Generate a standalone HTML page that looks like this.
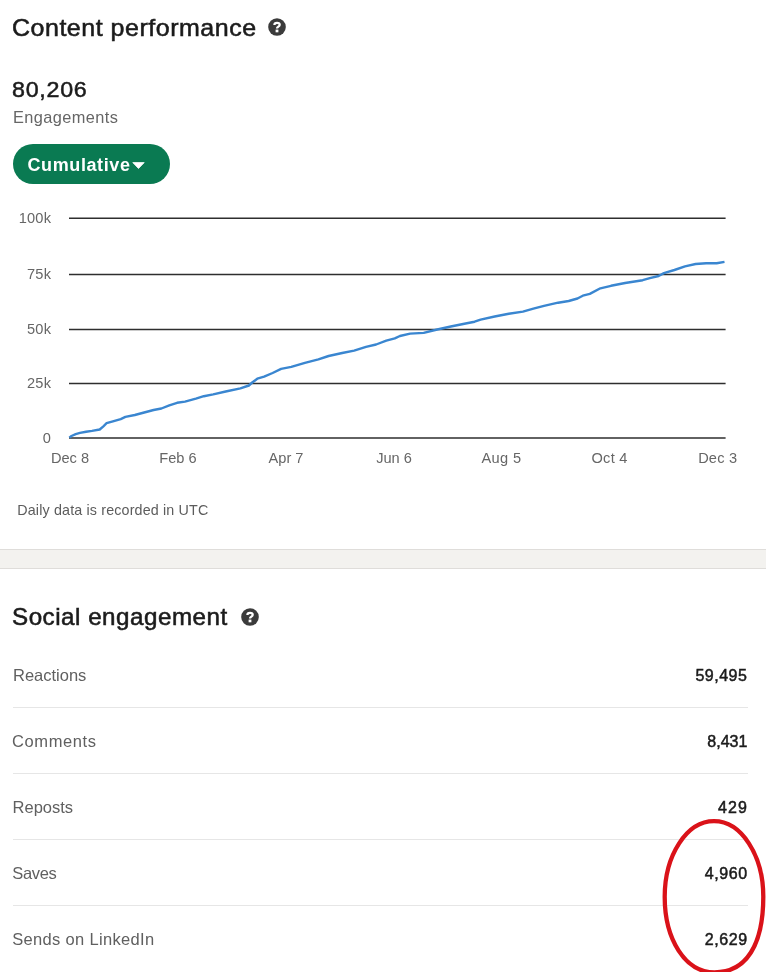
<!DOCTYPE html>
<html>
<head>
<meta charset="utf-8">
<style>
*{margin:0;padding:0;box-sizing:border-box;}
html,body{width:766px;height:972px;overflow:hidden;background:#fff;}
body{font-family:"Liberation Sans",sans-serif;position:relative;color:#1d1d1d;}
.abs{position:absolute;white-space:nowrap;line-height:1;}
.h1{font-size:24px;color:#1b1b1b;-webkit-text-stroke:0.55px #1b1b1b;letter-spacing:0.5px;transform-origin:0 0;}
.big{font-size:22.3px;color:#1b1b1b;-webkit-text-stroke:0.5px #1b1b1b;letter-spacing:0.7px;transform-origin:0 0;transform:scaleX(1.043);}
.sub{font-size:16.4px;color:#666;letter-spacing:0.4px;transform-origin:0 0;transform:scaleX(0.997);}
.pill{position:absolute;left:13px;top:144px;width:157px;height:40px;border-radius:20px;background:#0a7a52;}
.pill span{position:absolute;left:14.5px;top:11px;font-size:18px;font-weight:bold;color:#fff;line-height:20px;letter-spacing:0.6px;}
.pill svg{position:absolute;left:119px;top:18px;}
.yl{font-size:14.6px;color:#666;text-align:right;width:40px;left:11.2px;letter-spacing:0.2px;}
.xl{font-size:14.6px;color:#666;text-align:center;width:60px;}
.note{font-size:14.3px;color:#5c5c5c;letter-spacing:0.15px;}
.band{position:absolute;left:0;top:549px;width:766px;height:20px;background:#f3f2ef;border-top:1px solid #dfddda;border-bottom:1px solid #dfddda;}
.row{position:absolute;left:13px;width:735px;height:1px;background:#e6e6e6;}
.lab{font-size:16.5px;color:#606060;left:13px;}
.val{font-size:16px;color:#1b1b1b;right:18.6px;text-align:right;-webkit-text-stroke:0.5px #1b1b1b;}
</style>
</head>
<body>
<div id="wrap" style="position:absolute;left:0;top:0;width:766px;height:972px;will-change:transform;">
<div class="abs h1" style="left:12px;top:16.4px;transform:scaleX(1.041);">Content performance</div>
<svg class="abs" style="left:267px;top:16.8px;" width="20" height="20" viewBox="-10 -10 20 20"><circle cx="0" cy="0" r="8.8" fill="#3b3b3b"/><path d="M-2.6,-2.1 C-2.6,-4.7 2.7,-4.9 2.7,-2.2 C2.7,-0.3 0,-0.4 0,1.6" fill="none" stroke="#fff" stroke-width="2.3"/><rect x="-1.4" y="2.6" width="2.8" height="2.7" fill="#fff"/></svg>
<div class="abs big" style="left:12px;top:79.4px;">80,206</div>
<div class="abs sub" style="left:13px;top:108.9px;">Engagements</div>
<div class="pill"><span>Cumulative</span><svg width="13" height="7" viewBox="0 0 13 7"><path d="M0.8 0.6 L12.2 0.6 L6.5 6.5 Z" fill="#fff" stroke="#fff" stroke-width="0.8" stroke-linejoin="round"/></svg></div>

<svg class="abs" style="left:0;top:200px;" width="766" height="250" viewBox="0 200 766 250">
<g stroke="#2e2e2e" stroke-width="1.5">
<line x1="69" x2="725.6" y1="218.3" y2="218.3"/>
<line x1="69" x2="725.6" y1="274.4" y2="274.4"/>
<line x1="69" x2="725.6" y1="329.6" y2="329.6"/>
<line x1="69" x2="725.6" y1="383.4" y2="383.4"/>
<line x1="69" x2="725.6" y1="438.1" y2="438.1"/>
</g>
<polyline fill="none" stroke="#3a86d0" stroke-width="2.4" stroke-linejoin="round" stroke-linecap="butt" points="69.3,437.6 71.5,436 75.7,434.1 80,432.9 86.1,431.8 92,430.9 99.7,429.5 103.4,426.3 106.6,423.2 112.9,421.3 120.7,419.1 125.4,416.9 134.8,415 144.2,412.5 153.6,410 161.4,408.5 169.3,405.3 177.1,402.8 185,401.6 195.9,398.7 203.8,396.2 213.2,394.4 225.7,391.5 240.4,388.3 248.9,385.5 252.2,382.5 257.3,378.7 264.1,376.7 272.6,373 281.1,368.9 291.3,366.9 304.9,362.8 318.4,359.4 328.6,356 342.2,353 354.1,350.6 366,346.8 376.1,344.5 386.3,340.7 394.8,338.4 399.9,336 410.1,333.6 423.7,332.9 437.2,329.5 450.8,326.5 464.4,323.8 474.6,321.7 480.6,319.7 494.7,316.5 508.8,313.7 522.9,311.6 533.4,308.7 544,305.9 558.1,302.7 568.7,301 577.5,298.5 582.8,295.7 589.8,293.9 600.4,288.3 611,285.8 625.1,283 642.7,280.2 649.8,278.1 658.6,276 663.9,273.1 674.4,270 685,266.4 695.6,264 706.2,263.3 716.7,263.3 724.5,261.9"/>
</svg>

<div class="abs yl" style="top:210.8px;">100k</div>
<div class="abs yl" style="top:266.9px;">75k</div>
<div class="abs yl" style="top:322.1px;">50k</div>
<div class="abs yl" style="top:375.9px;">25k</div>
<div class="abs yl" style="top:430.6px;">0</div>

<div class="abs xl" style="left:40px;top:450.7px;">Dec 8</div>
<div class="abs xl" style="left:148px;top:450.7px;">Feb 6</div>
<div class="abs xl" style="left:256px;top:450.7px;">Apr 7</div>
<div class="abs xl" style="left:364px;top:450.7px;">Jun 6</div>
<div class="abs xl" style="left:471.5px;top:450.7px;letter-spacing:0.4px;">Aug 5</div>
<div class="abs xl" style="left:579.6px;top:450.7px;letter-spacing:0.3px;">Oct 4</div>
<div class="abs xl" style="left:687.7px;top:450.7px;letter-spacing:0.2px;">Dec 3</div>

<div class="abs note" style="left:17.3px;top:503.3px;">Daily data is recorded in UTC</div>
<div class="band"></div>

<div class="abs h1" style="left:12px;top:605.2px;transform:scaleX(1.008);">Social engagement</div>
<svg class="abs" style="left:240px;top:606.9px;" width="20" height="20" viewBox="-10 -10 20 20"><circle cx="0" cy="0" r="8.8" fill="#3b3b3b"/><path d="M-2.6,-2.1 C-2.6,-4.7 2.7,-4.9 2.7,-2.2 C2.7,-0.3 0,-0.4 0,1.6" fill="none" stroke="#fff" stroke-width="2.3"/><rect x="-1.4" y="2.6" width="2.8" height="2.7" fill="#fff"/></svg>

<div class="abs lab" style="top:666.7px;">Reactions</div><div class="abs val" style="top:667.7px;letter-spacing:0.5px;">59,495</div>
<div class="row" style="top:707px;"></div>
<div class="abs lab" style="top:732.7px;left:12px;letter-spacing:0.6px;">Comments</div><div class="abs val" style="top:733.8px;">8,431</div>
<div class="row" style="top:773px;"></div>
<div class="abs lab" style="top:798.9px;left:12.6px;">Reposts</div><div class="abs val" style="top:799.9px;letter-spacing:1.1px;right:18px;">429</div>
<div class="row" style="top:839px;"></div>
<div class="abs lab" style="top:865.0px;left:12.2px;letter-spacing:-0.3px;">Saves</div><div class="abs val" style="top:866.0px;letter-spacing:0.6px;right:18.2px;">4,960</div>
<div class="row" style="top:905px;"></div>
<div class="abs lab" style="top:931.2px;left:12.2px;letter-spacing:0.33px;">Sends on LinkedIn</div><div class="abs val" style="top:932.1px;letter-spacing:0.6px;right:18.2px;">2,629</div>

<svg class="abs" style="left:640px;top:800px;" width="126" height="172" viewBox="640 800 126 172">
<path d="M664.7,896.8 C664.7,855.05 686.77,821.2 714,821.2 C741.23,821.2 763.3,855.05 763.3,896.8 C763.3,944.5 746.5,972.4 714.5,972.4 C685.2,972.4 664.7,939.5 664.7,896.8 Z" fill="none" stroke="#da1219" stroke-width="4.3"/>
</svg>
</div>
</body>
</html>
